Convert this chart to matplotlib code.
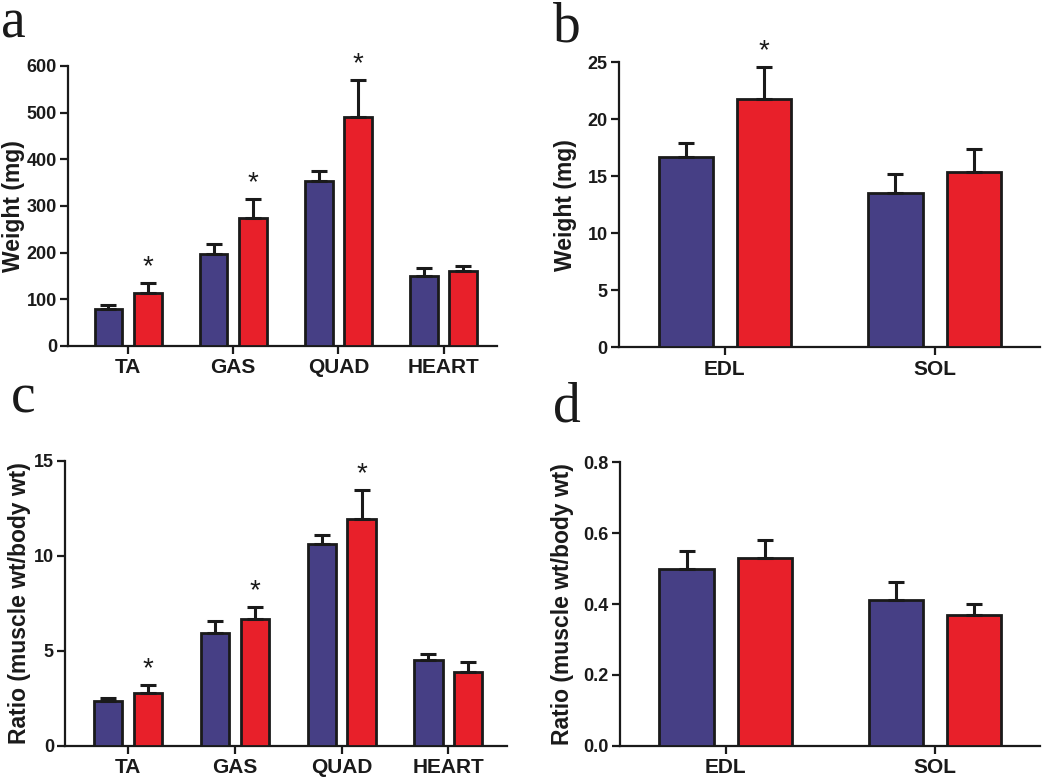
import matplotlib
matplotlib.use("Agg")
import matplotlib.pyplot as plt
import numpy as np

plt.rcParams['font.family'] = ['Liberation Sans', 'DejaVu Sans']
plt.rcParams['font.weight'] = 'bold'

BLUE = '#463F85'
RED = '#E8202A'

# Panel a
cats_a = ['TA', 'GAS', 'QUAD', 'HEART']
a_blue = [80, 198, 354, 151]
a_blue_err = [7, 20, 21, 17]
a_red = [114, 274, 491, 161]
a_red_err = [20, 40, 78, 10]
a_star = [True, True, True, False]

# Panel b
cats_b = ['EDL', 'SOL']
b_blue = [16.7, 13.5]
b_blue_err = [1.2, 1.7]
b_red = [21.8, 15.4]
b_red_err = [2.8, 2.0]
b_star = [True, False]

# Panel c
cats_c = ['TA', 'GAS', 'QUAD', 'HEART']
c_blue = [2.35, 5.95, 10.61, 4.51]
c_blue_err = [0.14, 0.6, 0.48, 0.31]
c_red = [2.75, 6.65, 11.93, 3.89]
c_red_err = [0.44, 0.67, 1.53, 0.5]
c_star = [True, True, True, False]

# Panel d
cats_d = ['EDL', 'SOL']
d_blue = [0.499, 0.412]
d_blue_err = [0.049, 0.049]
d_red = [0.530, 0.369]
d_red_err = [0.049, 0.032]
d_star = [False, False]

fig = plt.figure(figsize=(10.5, 7.77), dpi=100)


def panel(rect, cats, blue, berr, red, rerr, stars, ylim, yticks, yticklabels,
          ylabel, xlim, width, off, letter, letter_xy, label_x):
    ax = fig.add_axes(rect)
    x = np.arange(len(cats))
    ekw = dict(elinewidth=2.2, capthick=2.2, ecolor='#1a1a1a')
    ax.bar(x - off, blue, width, color=BLUE, edgecolor='#1a1a1a', linewidth=2,
           yerr=[np.zeros(len(cats)), berr], capsize=6, error_kw=ekw, zorder=3)
    ax.bar(x + off, red, width, color=RED, edgecolor='#1a1a1a', linewidth=2,
           yerr=[np.zeros(len(cats)), rerr], capsize=6, error_kw=ekw, zorder=3)
    for i, s in enumerate(stars):
        if s:
            ax.annotate('*', (x[i] + off, red[i] + rerr[i]), xytext=(0, 2),
                        textcoords='offset points', ha='center', va='bottom',
                        fontsize=20, fontweight='normal', color='#1a1a1a',
                        annotation_clip=False)
    ax.set_ylim(*ylim)
    ax.set_xlim(*xlim)
    ax.set_yticks(yticks)
    ax.set_yticklabels(yticklabels)
    ax.set_xticks(x)
    ax.set_xticklabels(cats)
    for sp in ['top', 'right']:
        ax.spines[sp].set_visible(False)
    for sp in ['left', 'bottom']:
        ax.spines[sp].set_linewidth(1.6)
        ax.spines[sp].set_color('#1a1a1a')
    ax.tick_params(axis='y', direction='out', length=6, width=1.6,
                   labelsize=13, colors='#1a1a1a', pad=2)
    ax.tick_params(axis='x', direction='out', length=6, width=1.6,
                   labelsize=15, colors='#1a1a1a', pad=3)
    ax.set_ylabel(ylabel, fontsize=16.5, fontweight='bold', color='#1a1a1a',
                  va='center')
    ax.yaxis.set_label_coords(label_x, 0.5)
    fig.text(letter_xy[0], letter_xy[1], letter, fontsize=40,
             family='Liberation Serif', fontweight='normal', va='baseline',
             ha='left', color='#1a1a1a')
    return ax


ax_a = panel([0.0648, 0.5547, 0.4085, 0.3605], cats_a, a_blue, a_blue_err,
             a_red, a_red_err, a_star, (0, 600), [0, 100, 200, 300, 400, 500, 600],
             ['0', '100', '200', '300', '400', '500', '600'], 'Weight (mg)',
             (-0.571, 3.508), 0.264, 0.187, 'a', (0.001, 0.952), -0.128)
ax_b = panel([0.5895, 0.5534, 0.4005, 0.3666], cats_b, b_blue, b_blue_err,
             b_red, b_red_err, b_star, (0, 25), [0, 5, 10, 15, 20, 25],
             ['0', '5', '10', '15', '20', '25'], 'Weight (mg)',
             (-0.505, 1.5), 0.259, 0.187, 'b', (0.527, 0.946), -0.128)
ax_c = panel([0.0619, 0.0403, 0.4211, 0.3667], cats_c, c_blue, c_blue_err,
             c_red, c_red_err, c_star, (0, 15), [0, 5, 10, 15],
             ['0', '5', '10', '15'], 'Ratio (muscle wt/body wt)',
             (-0.59, 3.55), 0.264, 0.187, 'c', (0.010, 0.4685), -0.102)
ax_d = panel([0.5905, 0.0399, 0.3995, 0.3655], cats_d, d_blue, d_blue_err,
             d_red, d_red_err, d_star, (0, 0.8), [0.0, 0.2, 0.4, 0.6, 0.8],
             ['0.0', '0.2', '0.4', '0.6', '0.8'], 'Ratio (muscle wt/body wt)',
             (-0.505, 1.5), 0.259, 0.187, 'd', (0.527, 0.457), -0.136)

fig.savefig('out.png', dpi=100)
